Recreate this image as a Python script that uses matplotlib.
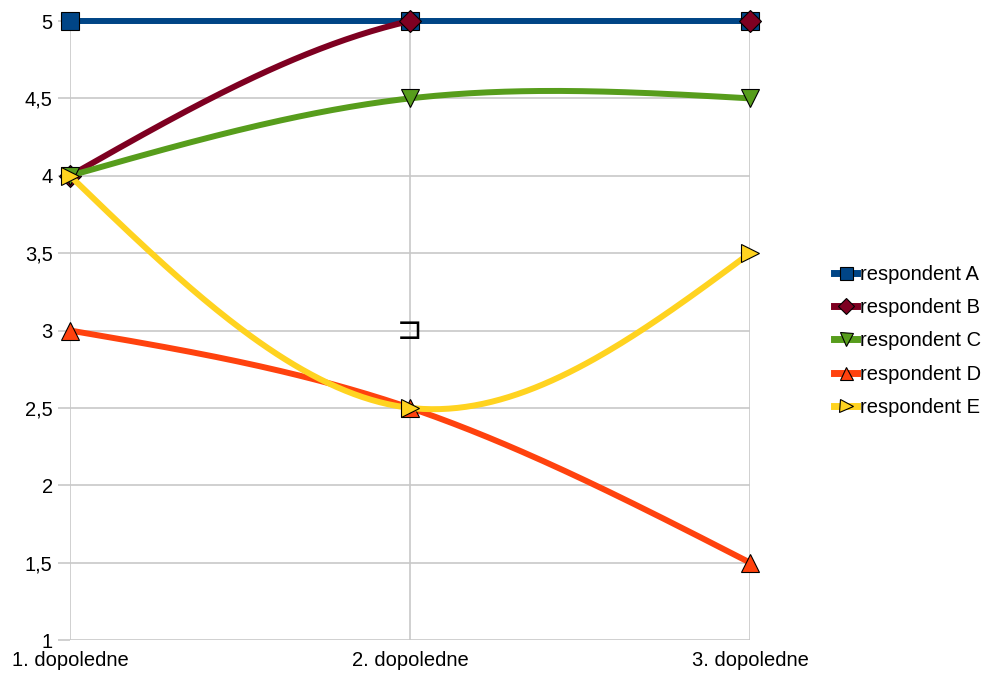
import numpy as np
import matplotlib.pyplot as plt

plt.rcParams["font.family"] = ["Liberation Sans", "DejaVu Sans"]

categories = ["1. dopoledne", "2. dopoledne", "3. dopoledne"]
names = ["respondent A", "respondent B", "respondent C", "respondent D", "respondent E"]
resp_a = [5, 5, 5]
resp_b = [4, 5, 5]
resp_c = [4, 4.5, 4.5]
resp_d = [3, 2.5, 1.5]
resp_e = [4, 2.5, 3.5]

colors = ["#004586", "#7e0021", "#579d1c", "#ff420e", "#ffd320"]
markers = ["s", "D", "v", "^", ">"]
msizes = [13, 11, 13, 13, 13]
yticks = [1, 1.5, 2, 2.5, 3, 3.5, 4, 4.5, 5]
ymin, ymax = 1, 5


def natural_spline(y, steps=80):
    # natural cubic spline through equally spaced points (x = 0, 1, 2, ...)
    y = np.asarray(y, dtype=float)
    n = len(y)
    m = np.zeros(n)
    if n > 2:
        a = np.zeros((n - 2, n - 2))
        rhs = np.zeros(n - 2)
        for i in range(n - 2):
            a[i, i] = 4
            if i > 0:
                a[i, i - 1] = 1
            if i < n - 3:
                a[i, i + 1] = 1
            rhs[i] = 6 * (y[i] - 2 * y[i + 1] + y[i + 2])
        m[1:-1] = np.linalg.solve(a, rhs)
    xs, ys = [], []
    for i in range(n - 1):
        t = np.linspace(0, 1, steps)
        A = 1 - t
        B = t
        s = A * y[i] + B * y[i + 1] + ((A ** 3 - A) * m[i] + (B ** 3 - B) * m[i + 1]) / 6
        xs.append(i + t)
        ys.append(s)
    return np.concatenate(xs), np.concatenate(ys)


fig = plt.figure(figsize=(9.88, 6.75), dpi=100)
ax = fig.add_axes([70 / 988, 35 / 675, 680 / 988, 619 / 675])

x = np.arange(len(categories))
series = [resp_a, resp_b, resp_c, resp_d, resp_e]
for vals, name, col, mk, ms in zip(series, names, colors, markers, msizes):
    sx, sy = natural_spline(vals)
    # drop the parts of the curve that leave the value range
    sy = np.where((sy > ymax + 1e-6) | (sy < ymin - 1e-6), np.nan, sy)
    ax.plot(sx, sy, color=col, lw=4.3, solid_capstyle="butt", clip_on=False)
    ax.plot(x, vals, ls="none", marker=mk, ms=ms, mfc=col, mec="black",
            mew=0.8, clip_on=False)
    # legend proxy
    ax.plot([], [], color=col, lw=5, marker=mk, ms=ms * 0.72, mfc=col,
            mec="black", mew=0.8, label=name)

ax.text(1, 3, "⊐", ha="center", va="center", fontsize=22,
        family="DejaVu Sans", color="black")

ax.set_xlim(0, 2)
ax.set_ylim(ymin, ymax)
ax.set_yticks(yticks)
ax.set_yticklabels([f"{v:g}".replace(".", ",") for v in yticks])
ax.set_xticks(x)
ax.set_xticklabels(categories)
ax.grid(True, color="#c8c8c8", lw=1.2)
ax.set_axisbelow(True)
for sp in ax.spines.values():
    sp.set_visible(False)
ax.tick_params(axis="y", length=8.5, color="#c8c8c8", width=1.2, pad=4,
               labelsize=14.5)
ax.tick_params(axis="x", length=0, pad=8, labelsize=14.5)

fig.legend(loc="center left", bbox_to_anchor=(834 / 988, 1 - 341 / 675),
           frameon=False, fontsize=14.5, handlelength=1.15,
           handletextpad=0.12, labelspacing=0.7, borderaxespad=0,
           borderpad=0)

fig.savefig("out.png", dpi=100)
